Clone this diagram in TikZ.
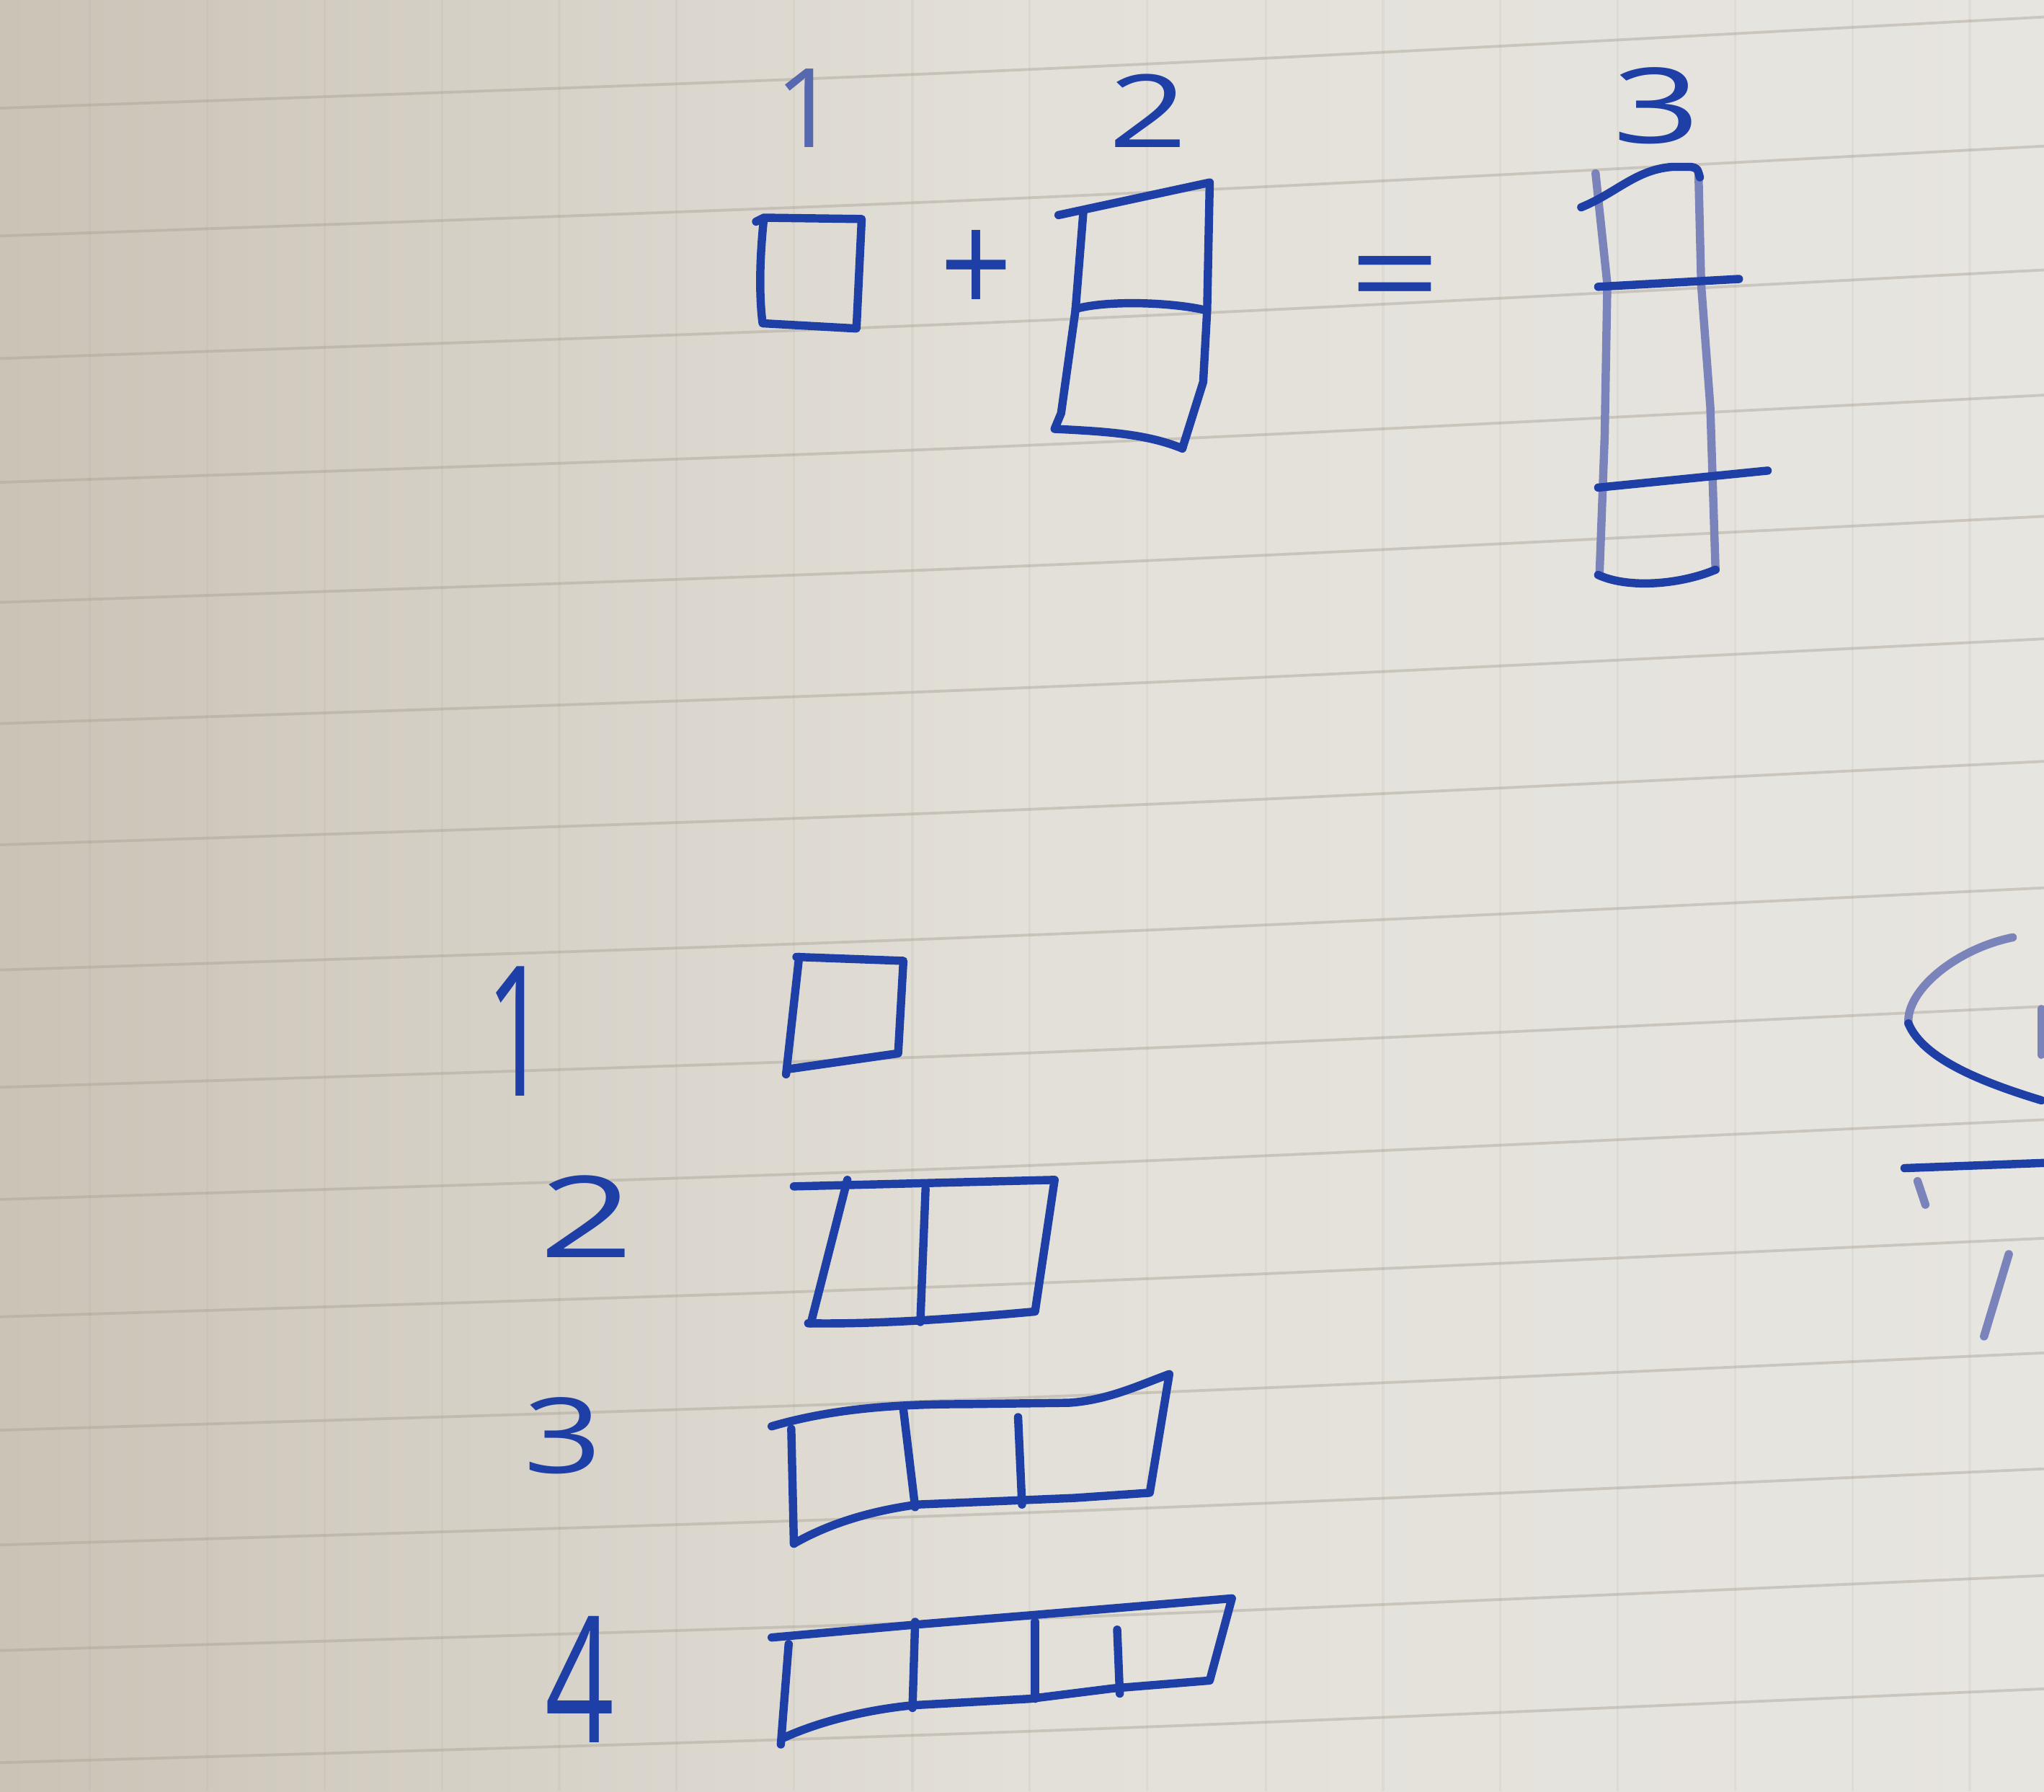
\documentclass[tikz,border=0pt]{standalone}
\usepackage{fontspec}
\newfontfamily\hand{Open Sans}
\definecolor{ink}{HTML}{1E3FA6}
\definecolor{inkfaint}{HTML}{7A84BA}
\definecolor{inklight}{HTML}{5668B0}
\definecolor{paperA}{HTML}{CAC3B6}
\definecolor{paperB}{HTML}{E3E0D9}
\definecolor{paperC}{HTML}{E7E5E0}
\definecolor{rule}{HTML}{A9A295}
\tikzset{
  pen/.style={draw=ink, line width=1.8pt, line cap=round, line join=round},
  penfaint/.style={pen, draw=inkfaint},
  hw/.style={inner sep=0pt, outer sep=0pt, text=ink, font=\hand\fontsize{24pt}{24pt}\selectfont},
  rulel/.style={draw=rule, line width=0.6pt, opacity=0.45},
  rulev/.style={draw=rule, line width=0.5pt, opacity=0.12},
}
\begin{document}
\begin{tikzpicture}[x=0.1mm,y=-0.1mm]
\useasboundingbox (0,0) rectangle (1568,1374);
\shade[left color=paperA, right color=paperC, middle color=paperB] (0,0) rectangle (1568,1374);
% grid of the paper
\foreach \x in {69,159,249,339,429,519,609,700,790,880,971,1061,1151,1241,1331,1421,1511}
  \draw[rulev] (\x,0) -- (\x,1374);
\foreach \y in {83,181,275,370,462,555,648,744,834,920,1010,1097,1185,1266,1352}{
  \pgfmathsetmacro\f{1-0.2*\y/1350}
  \draw[rulel] (0,\y) .. controls (784,{\y-28*\f}) .. (1568,{\y-70.8*\f});
}
% ---------- top: 1 + 2 = 3 ----------
\node[hw, text=inklight] (t1) at (619,83) {1};
\node[hw] (t2) at (881,85) {\scalebox{1.25}[0.92]{2}};
\node[hw] (t3) at (1271,81) {\scalebox{1.4}[0.95]{3}};
\node[hw] (plus) at (749,209) {\scalebox{1.15}[1.3]{+}};
\node[hw] (eq) at (1070,221) {\scalebox{1.45}[1.2]{=}};
% single square
\draw[pen] (580,170) -- (586,167) -- (661,168) -- (657,252) -- (585,248) .. controls (582,225) and (583,195) .. (586,167);
% two-stack
\draw[pen] (812,165) -- (928,140) -- (926,238) -- (923,293) -- (907,344);
\draw[pen] (831,163) -- (825,238) -- (814,317) -- (809,329) .. controls (850,331) and (880,333) .. (907,344);
\draw[pen] (825,237) .. controls (850,230) and (900,232) .. (925,238);
% three-stack
\draw[penfaint] (1224,133) -- (1233,218) -- (1231,334) -- (1227,441);
\draw[penfaint] (1303,135) -- (1305,218) -- (1312,312) -- (1316,437);
\draw[pen] (1213,159) .. controls (1240,148) and (1255,130) .. (1283,128) -- (1297,128) .. controls (1302,129) .. (1304,136);
\draw[pen] (1226,220) -- (1334,214);
\draw[pen] (1226,374) -- (1356,361);
\draw[pen] (1316,437) .. controls (1290,448) and (1250,452) .. (1226,441);
% ---------- bottom: rows 1 to 4 ----------
\node[hw] (r1) at (397,791) {\scalebox{1}[1.65]{1}};
\node[hw] (r2) at (450,933) {\scalebox{1.5}[1.03]{2}};
\node[hw] (r3) at (432,1101) {\scalebox{1.25}[0.95]{3}};
\node[hw] (r4) at (445,1288) {\scalebox{1.1}[1.6]{4}};
% row 1
\draw[pen] (611,734) -- (693,737) -- (689,808) -- (605,820);
\draw[pen] (613,734) -- (603,824);
% row 2
\draw[pen] (609,910) -- (809,905) -- (794,1006) .. controls (750,1010) and (680,1016) .. (620,1015);
\draw[pen] (650,905) -- (622,1015);
\draw[pen] (710,912) -- (706,1014);
% row 3
\draw[pen] (592,1094) .. controls (640,1080) and (690,1077) .. (740,1077) -- (820,1076) .. controls (850,1074) and (875,1062) .. (897,1054) -- (882,1145) -- (824,1149) -- (704,1154) .. controls (660,1160) and (630,1172) .. (609,1184);
\draw[pen] (607,1096) -- (609,1184);
\draw[pen] (693,1081) -- (702,1156);
\draw[pen] (781,1087) -- (784,1154);
% row 4
\draw[pen] (592,1256) -- (704,1246) -- (790,1239) -- (945,1226) -- (928,1289) -- (854,1295) -- (790,1303) -- (700,1308) .. controls (660,1312) and (625,1322) .. (601,1333);
\draw[pen] (605,1261) -- (599,1338);
\draw[pen] (702,1244) -- (700,1310);
\draw[pen] (794,1244) -- (794,1303);
\draw[pen] (857,1250) -- (859,1299);
% ---------- marks cut off at the right edge ----------
\draw[penfaint] (1544,719) .. controls (1500,728) and (1462,760) .. (1464,785);
\draw[pen] (1464,785) .. controls (1475,812) and (1520,830) .. (1566,844);
\draw[pen] (1461,896) -- (1568,892);
\draw[penfaint] (1471,906) -- (1477,924);
\draw[penfaint] (1541,962) -- (1522,1025);
\draw[penfaint] (1566,774) -- (1566,809);
\end{tikzpicture}
\end{document}
